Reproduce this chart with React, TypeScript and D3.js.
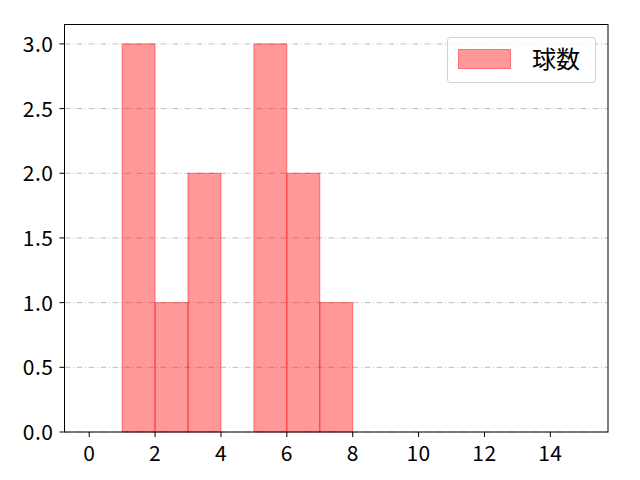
import React from 'react';
import * as d3 from 'd3';

// histogram bins (start, end) and counts
const binStarts = [1, 2, 3, 5, 6, 7];
const binEnds = [2, 3, 4, 6, 7, 8];
const counts = [3, 1, 2, 3, 2, 1];
const xTicks = [0, 2, 4, 6, 8, 10, 12, 14];
const yTicks = [0, 0.5, 1.0, 1.5, 2.0, 2.5, 3.0];
const seriesName = '球数';

const WIDTH = 640;
const HEIGHT = 480;
const M = { left: 64.5, right: 608, top: 24.5, bottom: 432 };
const FONT = '"Noto Sans CJK JP", "Noto Sans", sans-serif';

const App: React.FC = () => {
  const x = d3.scaleLinear().domain([-0.75, 15.75]).range([M.left, M.right]);
  const y = d3.scaleLinear().domain([0, 3.15]).range([M.bottom, M.top]);

  return (
    <svg width={WIDTH} height={HEIGHT} style={{ position: 'absolute', left: 0, top: 0 }}>
      <rect x={0} y={0} width={WIDTH} height={HEIGHT} fill="white" />
      {yTicks.map(t => (
        <line
          key={`g${t}`}
          x1={M.left}
          x2={M.right}
          y1={y(t)}
          y2={y(t)}
          stroke="#b0b0b0"
          strokeWidth={0.8}
          strokeDasharray="6,2.5,1,2.5"
        />
      ))}
      {counts.map((c, i) => (
        <rect
          key={i}
          x={x(binStarts[i])}
          y={y(c)}
          width={x(binEnds[i]) - x(binStarts[i])}
          height={y(0) - y(c)}
          fill="rgba(255,0,0,0.4)"
          stroke="rgba(255,0,0,0.45)"
          strokeWidth={1}
        />
      ))}
      <rect
        x={M.left}
        y={M.top}
        width={M.right - M.left}
        height={M.bottom - M.top}
        fill="none"
        stroke="black"
        strokeWidth={1}
      />
      {xTicks.map(t => (
        <g key={`x${t}`}>
          <line x1={x(t)} x2={x(t)} y1={M.bottom} y2={M.bottom + 5} stroke="black" />
          <text x={x(t)} y={M.bottom + 29} textAnchor="middle" fontFamily={FONT} fontSize={21} letterSpacing={0.5}>
            {t}
          </text>
        </g>
      ))}
      {yTicks.map(t => (
        <g key={`y${t}`}>
          <line x1={M.left - 5} x2={M.left} y1={y(t)} y2={y(t)} stroke="black" />
          <text x={M.left - 11} y={y(t) + 8} textAnchor="end" fontFamily={FONT} fontSize={21} letterSpacing={0.5}>
            {t.toFixed(1)}
          </text>
        </g>
      ))}
      <g>
        <rect x={447.5} y={37.5} width={148} height={45} rx={3} fill="white" fillOpacity={0.8} stroke="#d0d0d0" />
        <rect x={458.5} y={49.5} width={52} height={19} fill="rgba(255,0,0,0.4)" stroke="rgba(255,0,0,0.45)" />
        <text x={532} y={68} fontFamily={FONT} fontSize={24}>
          {seriesName}
        </text>
      </g>
    </svg>
  );
};

export default App;
